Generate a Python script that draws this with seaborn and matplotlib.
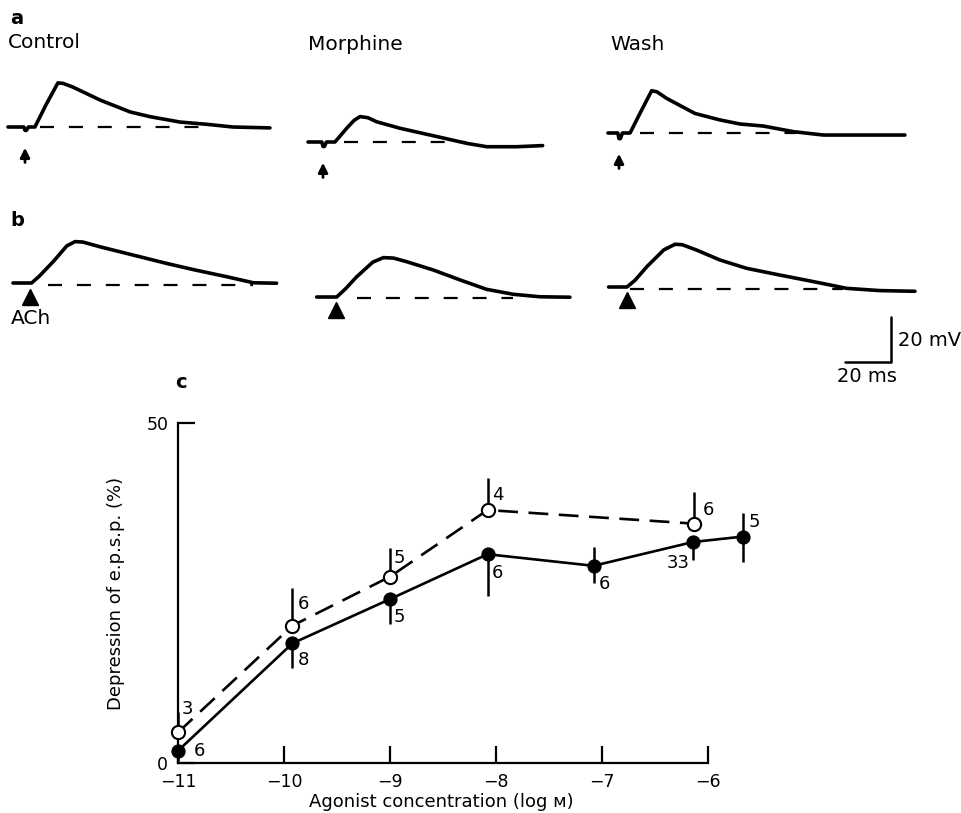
import matplotlib
matplotlib.use("Agg")
import matplotlib.pyplot as plt
import seaborn as sns

sns.set_style("ticks")
plt.rcParams["font.family"] = ["DejaVu Sans"]
plt.rcParams["text.color"] = "k"
plt.rcParams["axes.labelcolor"] = "k"
plt.rcParams["xtick.color"] = "k"
plt.rcParams["ytick.color"] = "k"

# ---- data: e.p.s.p. traces (time in ms from stimulus, mV from baseline) ----
ctrl_a_t = [-7.4, -0.5, 0, 0.6, 1.5, 4.3, 9.1, 14.3, 16.5, 20.7, 32.6, 45.7, 54.3, 67.4, 79, 90.4, 106.5]
ctrl_a_v = [0, 0, -1.5, -1.5, 0, 0, 9.8, 19.6, 19.4, 17.8, 12.0, 6.7, 4.6, 2.2, 1.2, 0, -0.4]
morph_a_t = [-6.5, -0.5, 0, 0.6, 1.5, 5.2, 10.3, 13.5, 16.1, 19.5, 23.3, 33.5, 50.9, 62.5, 71.2, 84.2, 95.5]
morph_a_v = [0, 0, -2.0, -2.0, 0, 0, 6.1, 9.6, 11.3, 10.8, 9.0, 6.1, 2.1, -0.6, -2.1, -2.1, -1.6]
wash_a_t = [-4.8, -0.5, 0, 0.6, 1.5, 4.8, 9.1, 14.2, 16.5, 20.7, 33, 43.9, 52.6, 62.7, 75.8, 88.8, 124.3]
wash_a_v = [0, 0, -2.5, -2.5, 0, 0, 8.7, 18.8, 18.3, 15.4, 8.7, 5.8, 4.0, 3.1, 0.6, -0.9, -0.9]

ctrl_b_t = [-7.4, 0.7, 4.0, 10.1, 16.0, 19.6, 23.0, 30.4, 44.9, 59.4, 71.7, 85.5, 97.1, 107.2]
ctrl_b_v = [0, 0, 3.0, 9.5, 16.5, 18.4, 18.2, 16.1, 12.4, 8.7, 5.8, 2.8, 0.1, -0.1]
morph_b_t = [-8.4, 0.3, 4.0, 9.0, 16.0, 20.6, 25.0, 30.7, 42.3, 53.9, 65.5, 77.1, 88.7, 101.7]
morph_b_v = [0, 0, 3.5, 9.0, 15.5, 17.5, 17.3, 15.7, 12.0, 7.6, 3.4, 1.2, 0.1, -0.1]
wash_b_t = [-8.0, 0, 3.5, 8.6, 16.0, 20.9, 24.0, 30.3, 40.4, 52.0, 66.5, 81.0, 95.5, 110.0, 125.2]
wash_b_v = [0, 0, 3.0, 9.0, 16.5, 19.0, 18.8, 16.4, 12.0, 8.3, 5.3, 2.4, -0.6, -1.6, -1.9]

# dashed baselines (start, end in ms, level in mV)
base_ctrl_a = [6.5, 78, 0]
base_morph_a = [9, 62, 0]
base_wash_a = [9, 77, 0]
base_ctrl_b = [7.9, 97, -0.7]
base_morph_b = [9, 77, -0.6]
base_wash_b = [1.3, 94, -1.0]

# ---- data: concentration-response (panel c) ----
closed_x = [-11, -9.92, -9.0, -8.08, -7.08, -6.14, -5.67]
closed_y = [1.8, 17.6, 24.1, 30.7, 29.0, 32.5, 33.3]
closed_lo = [1.5, 3.7, 3.7, 6.2, 2.6, 2.6, 3.7]
closed_hi = [0, 0, 0, 0, 2.8, 0, 3.5]
closed_n = ["6", "8", "5", "6", "6", "33", "5"]

open_x = [-11, -9.92, -9.0, -8.08, -6.13]
open_y = [4.5, 20.2, 27.4, 37.2, 35.2]
open_hi = [3.0, 5.6, 4.2, 4.7, 4.7]
open_n = ["3", "6", "5", "4", "6"]

x_ticks = [-11, -10, -9, -8, -7, -6]
y_ticks = [0, 50]

# label offsets (pixels) for the n values
closed_off = [(21, 0), (11, -17), (9, -18), (10, -19), (11, -18), (-15, -21), (11, 15)]
open_off = [(9, 23), (11, 22), (9, 19), (10, 15), (14, 14)]

W, H = 962, 813
fig = plt.figure(figsize=(W / 100, H / 100), dpi=100)

# trace axes share one ms / mV scale
SX, SY = 2.3, 2.25  # px per ms, px per mV
XL, YL = (-12, 130), (-42, 26)


def trace_axes(stim_px, base_px):
    left = stim_px + XL[0] * SX
    top = base_px - YL[1] * SY
    w = (XL[1] - XL[0]) * SX
    h = (YL[1] - YL[0]) * SY
    ax = fig.add_axes([left / W, 1 - (top + h) / H, w / W, h / H])
    ax.set_xlim(XL)
    ax.set_ylim(YL)
    ax.axis("off")
    return ax


def draw_trace(ax, t, v, base, stim):
    sns.lineplot(x=t, y=v, ax=ax, color="k", lw=2.6, sort=False,
                 estimator=None, solid_capstyle="round",
                 solid_joinstyle="round")
    ax.plot([base[0], base[1]], [base[2], base[2]], color="k", lw=1.6,
            ls=(0, (6.3, 6.7)))
    if stim == "arrow":
        ax.annotate("", xy=(0, -8.0), xytext=(0, -17),
                    arrowprops=dict(arrowstyle="-|>", color="k", lw=2.0,
                                    mutation_scale=14))
    else:
        ax.plot([0], [-6], marker="^", color="k", ms=11, ls="none")


traces = [
    (25, 127, ctrl_a_t, ctrl_a_v, base_ctrl_a, "arrow"),
    (323, 142, morph_a_t, morph_a_v, base_morph_a, "arrow"),
    (619, 133, wash_a_t, wash_a_v, base_wash_a, "arrow"),
    (30, 283, ctrl_b_t, ctrl_b_v, base_ctrl_b, "tri"),
    (336, 297, morph_b_t, morph_b_v, base_morph_b, "tri"),
    (627, 287, wash_b_t, wash_b_v, base_wash_b, "tri"),
]
for sx, by, t, v, base, stim in traces:
    ax_t = trace_axes(sx, by)
    draw_trace(ax_t, t, v, base, stim)

# scale bar in the last trace axes
ax_t.plot([94.8, 114.8, 114.8], [-33.3, -33.3, -13.3], color="k", lw=1.8)
ax_t.text(117.8, -23.6, "20 mV", ha="left", va="center", fontsize=14)
ax_t.text(104.3, -39.6, "20 ms", ha="center", va="center", fontsize=14)


def ftext(x, y, s, **kw):
    fig.text(x / W, 1 - y / H, s, va="center", **kw)


ftext(10, 18, "a", fontsize=14, fontweight="bold")
ftext(8, 43, "Control", fontsize=14.5)
ftext(308, 45, "Morphine", fontsize=14.5)
ftext(610, 45, "Wash", fontsize=14.5)
ftext(10, 221, "b", fontsize=14, fontweight="bold")
ftext(11, 318, "ACh", fontsize=14.5)
ftext(175, 382, "c", fontsize=14, fontweight="bold")

# ---- panel c ----
ax = fig.add_axes([178 / W, (H - 763) / H, 583 / W, 340 / H])
ax.set_xlim(-11, -5.5)
ax.set_ylim(0, 50)

lo_y = [y - e for y, e in zip(closed_y, closed_lo)]
hi_y = [y + e for y, e in zip(closed_y, closed_hi)]
ax.vlines(closed_x, lo_y, hi_y, color="k", lw=1.8, zorder=2, clip_on=False)
ax.vlines(open_x, open_y, [y + e for y, e in zip(open_y, open_hi)],
          color="k", lw=1.8, zorder=2, clip_on=False)

sns.lineplot(x=open_x, y=open_y, ax=ax, color="k", lw=1.9, ls=(0, (7.5, 4)),
             sort=False, estimator=None, marker="o", ms=9.5, mfc="white",
             mec="k", mew=1.5, clip_on=False, zorder=3)
sns.lineplot(x=closed_x, y=closed_y, ax=ax, color="k", lw=1.9, sort=False,
             estimator=None, marker="o", ms=9.5, mfc="k", mec="k",
             clip_on=False, zorder=4)

for x, y, s, (dx, dy) in zip(closed_x, closed_y, closed_n, closed_off):
    ax.annotate(s, (x, y), xytext=(dx, dy), textcoords="offset pixels",
                ha="center", va="center", fontsize=13)
for x, y, s, (dx, dy) in zip(open_x, open_y, open_n, open_off):
    ax.annotate(s, (x, y), xytext=(dx, dy), textcoords="offset pixels",
                ha="center", va="center", fontsize=13)

sns.despine(ax=ax)
ax.spines["left"].set_bounds(0, 50)
ax.spines["bottom"].set_bounds(-11, -6)
for sp in ("left", "bottom"):
    ax.spines[sp].set_linewidth(1.6)
    ax.spines[sp].set_color("k")
ax.set_xticks(x_ticks)
ax.set_xticklabels([f"\u2212{abs(v)}" for v in x_ticks])
ax.set_yticks(y_ticks)
ax.tick_params(direction="in", length=12, width=1.6, labelsize=12.5)
ax.tick_params(axis="x", pad=7)
ax.tick_params(axis="y", pad=7)

ax.set_xlabel("Agonist concentration (log \u1d0d)", fontsize=13)
ax.xaxis.set_label_coords(0.451, -0.088)
ax.set_ylabel("Depression of e.p.s.p. (%)", fontsize=13)
ax.yaxis.set_label_coords(-0.091, 0.5)

fig.savefig("out.png", dpi=100)
